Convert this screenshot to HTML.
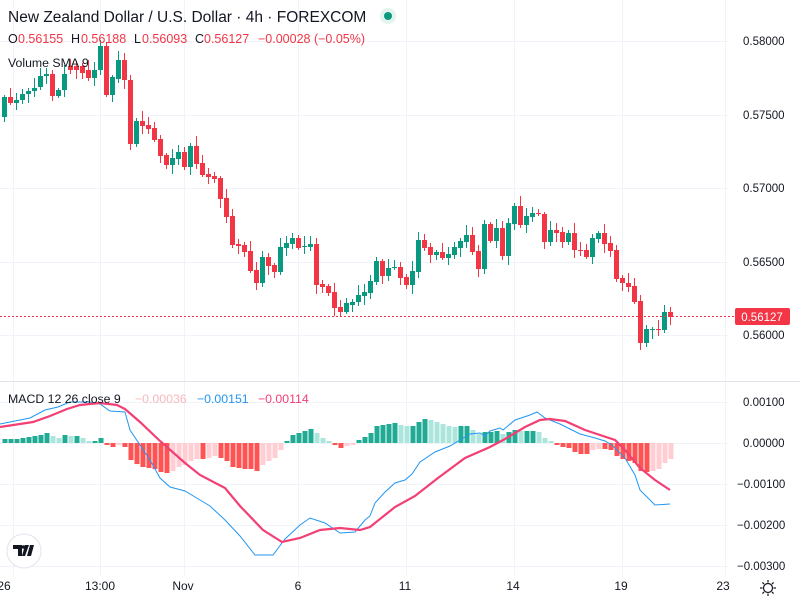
<!DOCTYPE html>
<html><head><meta charset="utf-8"><style>
body{margin:0;background:#fff;}
svg{display:block;font-family:"Liberation Sans",sans-serif;}
</style></head><body>
<svg id="s" width="800" height="600" xmlns="http://www.w3.org/2000/svg">
<rect width="800" height="600" fill="#fff"/>
<g id="grid" stroke="#f0f3fa" stroke-width="1"></g>
<line x1="0" y1="381.5" x2="800" y2="381.5" stroke="#e0e3eb"/>
<line x1="0" y1="443.5" x2="728" y2="443.5" stroke="#f0f3fa"/>
<g id="hist"></g>
<polyline id="macd" fill="none" stroke="#2196f3" stroke-width="1"/>
<polyline id="sig" fill="none" stroke="#f23f74" stroke-width="2.2"/>
<g id="candles"></g>
<line x1="0" y1="316.5" x2="735" y2="316.5" stroke="#f23645" stroke-dasharray="2,2"/>
<rect x="735" y="308" width="55" height="17" rx="2" fill="#f23645"/>
<text x="762" y="321" fill="#fff" font-size="11.5" text-anchor="middle">0.56127</text>
<g font-size="11.5" fill="#131722">
<text x="743" y="45">0.58000</text>
<text x="743" y="119">0.57500</text>
<text x="743" y="192">0.57000</text>
<text x="743" y="266">0.56500</text>
<text x="743" y="339">0.56000</text>
<text x="743" y="406">0.00100</text>
<text x="743" y="447">0.00000</text>
<text x="737" y="488">−0.00100</text>
<text x="737" y="529">−0.00200</text>
<text x="737" y="570">−0.00300</text>
</g>
<g font-size="12" fill="#131722" text-anchor="middle">
<text x="4" y="590">26</text><text x="100" y="590">13:00</text><text x="183" y="590">Nov</text>
<text x="298" y="590">6</text><text x="405" y="590">11</text><text x="513" y="590">14</text>
<text x="621" y="590">19</text><text x="723" y="590">23</text>
</g>
<g transform="translate(768,588)" stroke="#131722" fill="none" stroke-width="1.2">
<circle r="4.5"/><line x1="0" y1="-8" x2="0" y2="-5.5"/><line x1="0" y1="8" x2="0" y2="5.5"/><line x1="-8" y1="0" x2="-5.5" y2="0"/><line x1="8" y1="0" x2="5.5" y2="0"/>
<line x1="-5.6" y1="-5.6" x2="-3.9" y2="-3.9"/><line x1="5.6" y1="5.6" x2="3.9" y2="3.9"/><line x1="-5.6" y1="5.6" x2="-3.9" y2="3.9"/><line x1="5.6" y1="-5.6" x2="3.9" y2="-3.9"/>
</g>
<circle cx="24" cy="551" r="17" fill="#fff" stroke="#e0e3eb"/>
<path d="M13 545h9v11h-4v-7h-5z M25 545h4l-4 11h-3z M30 545h4l-3 11h-4z" fill="#131722"/>
<circle cx="23.5" cy="547" r="1.8" fill="#131722"/>
<text x="8" y="22" font-size="15.5" fill="#131722">New Zealand Dollar / U.S. Dollar · 4h · FOREXCOM</text>
<circle cx="388" cy="16" r="8" fill="#e3f4ef"/><circle cx="388" cy="16" r="4" fill="#089981"/>
<text y="43" font-size="12.5" fill="#f23645"><tspan x="8" fill="#131722">O</tspan><tspan x="18">0.56155</tspan><tspan x="71" fill="#131722">H</tspan><tspan x="81">0.56188</tspan><tspan x="134" fill="#131722">L</tspan><tspan x="142">0.56093</tspan><tspan x="195" fill="#131722">C</tspan><tspan x="204">0.56127</tspan><tspan x="258">−0.00028 (−0.05%)</tspan></text>
<text x="8" y="67" font-size="12.3" fill="#131722">Volume SMA 9</text>
<text y="403" font-size="12.3" fill="#131722"><tspan x="8">MACD 12 26 close 9</tspan><tspan x="135" fill="#f7b8bf">−0.00036</tspan><tspan x="197" fill="#2196f3">−0.00151</tspan><tspan x="258" fill="#f23f74">−0.00114</tspan></text>
</svg>
<script>
var NS="http://www.w3.org/2000/svg";
function el(p,t,a){var e=document.createElementNS(NS,t);for(var k in a)e.setAttribute(k,a[k]);p.appendChild(e);return e;}
var g=document.getElementById('grid');
[41,115,188,262,335,402,484,525,566].forEach(function(y){el(g,'line',{x1:0,x2:728,y1:y+.5,y2:y+.5});});
[13,100,184,298,406,514,622,725].forEach(function(x){el(g,'line',{x1:x+.5,x2:x+.5,y1:0,y2:575});});
var C=[[4,'G',97,117],[10,'R',97,103],[16,'G',100,103],[22,'G',94,100],[28,'G',91,94],[34,'G',88,91],[40,'G',76,87],[46,'G',74,76],[52,'R',74,96],[58,'G',90,96],[64,'G',74,90],[70,'R',66,70],[76,'R',66,70],[82,'R',66,73],[88,'R',70,78],[94,'G',70,78],[100,'G',46,70],[106,'R',46,95],[112,'G',77,95],[118,'G',60,79],[124,'R',60,80],[130,'R',80,144],[136,'G',121,144],[142,'R',121,126],[148,'R',125,129],[154,'R',128,140],[160,'R',139,156],[166,'R',155,165],[172,'G',158,165],[178,'G',152,159],[184,'R',152,167],[190,'G',146,167],[196,'R',146,164],[202,'R',163,175],[208,'R',174,177],[214,'R',176,179],[220,'R',178,199],[226,'R',198,217],[232,'R',216,245],[238,'R',244,246],[244,'R',245,252],[250,'R',251,271],[256,'R',270,283],[262,'G',257,283],[268,'R',257,266],[274,'R',265,272],[280,'G',247,272],[286,'G',243,248],[292,'G',238,244],[298,'R',238,248],[304,'G',246,247],[310,'G',244,247],[316,'R',244,285],[322,'R',284,287],[328,'R',286,293],[334,'R',292,308],[340,'R',307,312],[346,'G',303,312],[352,'G',302,305],[358,'G',295,302],
[364,'G',292,296],[370,'G',281,293],[376,'G',261,282],[382,'R',261,276],[388,'G',268,276],[394,'G',267,268],[400,'R',267,278],[406,'R',277,285],[412,'G',271,285],[418,'G',240,272],[424,'R',240,248],[430,'R',247,255],[436,'G',252,255],[442,'R',252,258],[448,'G',254,258],[454,'G',247,255],[460,'G',241,248],[466,'G',235,242],[472,'R',235,252],[478,'R',251,269],[484,'G',224,269],[490,'R',224,241],[496,'G',228,241],[502,'R',228,256],[508,'G',223,256],[514,'G',206,224],[520,'R',206,225],[526,'G',216,225],[532,'G',213,217],[538,'R',213,214],[544,'R',214,242],[550,'G',230,242],[556,'R',230,233],[562,'R',232,242],[568,'G',233,242],[574,'R',233,250],[580,'R',250,251],[586,'R',250,257],[592,'G',238,257],[598,'G',233,239],[604,'R',233,244],[610,'R',243,251],[616,'R',250,279],[622,'R',278,283],[628,'R',283,287],[634,'R',286,302],[640,'R',301,343],[646,'G',329,343],[652,'G',329,330],[658,'R',329,330],[664,'G',312,330],[670,'R',312,317]];
var cg=document.getElementById('candles');
C.forEach(function(c,i){var col=c[1]=='G'?'#089981':'#f23645';var a=2+((i*7)%9),b=2+((i*5+3)%8);
el(cg,'line',{x1:c[0]+.5,x2:c[0]+.5,y1:c[2]-a,y2:c[3]+b,stroke:col,'stroke-width':1});
el(cg,'rect',{x:c[0]-2,y:c[2],width:5,height:Math.max(1,c[3]-c[2]),fill:col});});
var H=[4,4,4,5,6,7,8,10,7,5,8,7,7,5,2,2,5,-2,-4,-2,-4,-17,-21,-24,-25,-26,-29,-30,-28,-24,-22,-18,-16,-16,-15,-13,-15,-18,-24,-25,-26,-26,-28,-22,-18,-15,-7,2,8,10,12,14,10,5,2,-2,-5,-3,-2,3,6,
10,17,18,19,20,18,17,17,21,24,23,21,19,17,16,17,17,13,9,11,11,12,9,11,13,12,12,12,11,5,2,-2,-4,-5,-9,-11,-11,-7,-6,-6,-7,-13,-16,-18,-20,-28,-29,-28,-26,-20,-16];
var hg=document.getElementById('hist');
H.forEach(function(v,i){var p=i?H[i-1]:0,col;
if(v>=0)col=v>=p?'#22ab94':'#ace5dc';else col=v<=p?'#ff5252':'#ffcdd2';
var x=5+6*i;el(hg,'rect',{x:x-2.5,y:v>=0?443-v:443,width:5,height:Math.abs(v),fill:col});});
document.getElementById('sig').setAttribute('points',"0,427 33,422 50,416 67,409 80,405 100,403 117,405 125,409 140,422 160,441 185,463 200,475 225,488 240,506 263,530 282,542 300,538 320,530 340,528 360,530 370,527 395,507 415,496 438,478 465,458 490,447 505,439 525,427 540,420 550,419 565,421 585,430 600,435 615,440 625,450 640,468 655,480 670,490");
document.getElementById('macd').setAttribute('points',"0,424 10,422 30,418 45,410 58,407 70,402 90,402 100,404 110,411 125,412 130,430 150,460 160,478 170,487 185,491 200,500 210,506 225,520 240,536 255,555 273,555 285,539 300,525 310,518 325,523 340,533 355,532 365,520 370,516 375,503 385,492 395,483 405,480 412,474 420,462 435,452 450,446 460,440 470,434 480,433 485,436 490,431 500,428 503,430 515,420 530,415 537,412 545,418 560,424 580,434 595,438 605,441 612,445 625,458 635,475 640,490 655,505 670,504");
</script>
</body></html>
